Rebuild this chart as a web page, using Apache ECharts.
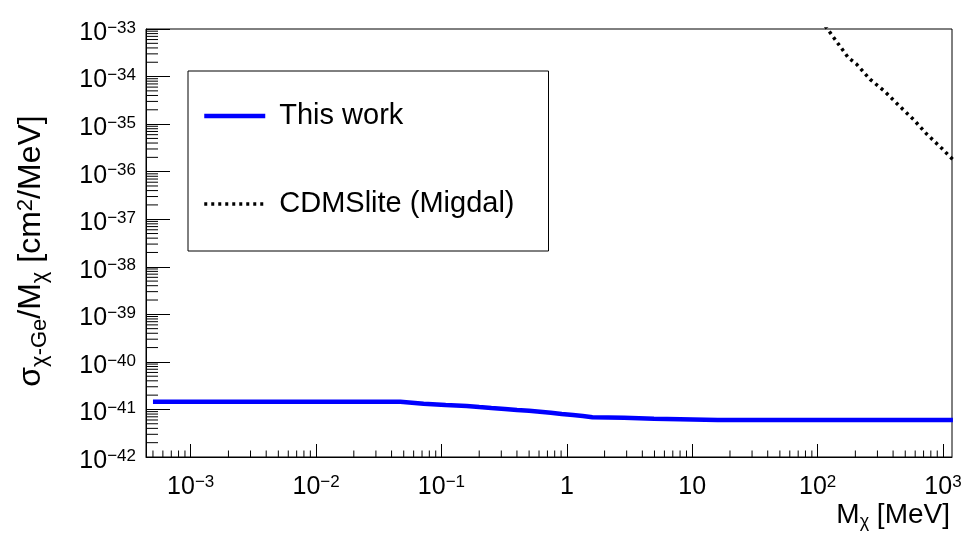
<!DOCTYPE html>
<html>
<head>
<meta charset="utf-8">
<script src="https://cdn.jsdelivr.net/npm/echarts@6/dist/echarts.min.js"></script>
<style>
html,body{margin:0;padding:0;background:#fff;}
#chart{width:962px;height:534px;}
</style>
</head>
<body>
<div id="chart"></div>
<script>
// ---- data ----
const thisWorkMass  = [5e-4, 0.047, 0.072, 0.108, 0.159, 0.2, 0.25, 0.32, 0.4, 0.5, 0.61, 0.745, 0.91, 1.12, 1.34, 1.6, 2.85, 4.95, 8, 16, 1200];
const thisWorkSigma = [1.45e-41, 1.45e-41, 1.32e-41, 1.24e-41, 1.18e-41, 1.12e-41, 1.07e-41, 1.02e-41, 9.7e-42, 9.4e-42, 8.95e-42, 8.5e-42, 8.0e-42, 7.6e-42, 7.25e-42, 6.85e-42, 6.65e-42, 6.35e-42, 6.25e-42, 6.0e-42, 6.0e-42];
const cdmsMass  = [115, 121.6, 175.8, 205, 262, 345, 441, 580, 741, 977, 1117, 1200];
const cdmsSigma = [1.16e-33, 9.5e-34, 2.49e-34, 1.81e-34, 8.75e-35, 4.8e-35, 2.52e-35, 1.26e-35, 6.2e-36, 3.1e-36, 2.16e-36, 1.8e-36];
const seriesNames = ['This work', 'CDMSlite (Migdal)'];
const xAxisTitle = '{n|M}{sub|χ}{n| [MeV]}';
const yAxisTitle = '{n|σ}{sub|χ-Ge}{n|/M}{sub|χ}{n| [cm}{sup|2}{n|/MeV]}';

// axis ranges and minor-tick layout
const X_MIN = 4.4e-4, X_MAX = 1.18e3;
const Y_MIN = 0.99999e-42, Y_MAX = 1e-33;
const minorMultipliers = [2, 3, 4, 5, 6, 7, 8, 9];
const xMinorDecades = [-4, -3, -2, -1, 0, 1, 2, 3];
const yMinorDecades = [-42, -41, -40, -39, -38, -37, -36, -35, -34];

function minorValues(decades, lo, hi) {
  const out = [];
  decades.forEach(k => minorMultipliers.forEach(m => {
    const v = m * Math.pow(10, k);
    if (v > lo && v < hi) out.push(v);
  }));
  return out;
}
const xMinor = minorValues(xMinorDecades, X_MIN, X_MAX);
const yMinor = minorValues(yMinorDecades, Y_MIN, Y_MAX);

const FONT = 'Liberation Sans';

function expOf(v) {
  const e = Math.log10(v);
  const r = Math.round(e);
  return Math.abs(e - r) < 1e-3 ? r : null;
}
function xLabel(v) {
  const e = expOf(v);
  if (e === null) return '';
  if (e === 0) return '{b|1}';
  if (e === 1) return '{b|10}';
  return '{b|10}{s|' + (e < 0 ? '\u2212' + (-e) : e) + '}';
}
function yLabel(v) {
  const e = expOf(v);
  if (e === null) return '';
  return '{b|10}{s|' + (e < 0 ? '\u2212' + (-e) : e) + '}';
}
const tickRich = {
  b: { fontSize: 25, lineHeight: 26, verticalAlign: 'bottom', fontFamily: FONT, color: '#000' },
  s: { fontSize: 17, lineHeight: 6, verticalAlign: 'top', fontFamily: FONT, color: '#000' }
};

const chart = echarts.init(document.getElementById('chart'), null, { renderer: 'canvas' });
chart.setOption({
  animation: false,
  backgroundColor: '#fff',
  textStyle: { fontFamily: FONT, color: '#000' },
  grid: {
    left: 146, right: 10, top: 29, bottom: 77,
    show: true, borderColor: '#000', borderWidth: 1, backgroundColor: 'transparent',
    containLabel: false, outerBoundsMode: 'none'
  },
  legend: {
    data: seriesNames,
    orient: 'vertical',
    left: 188, top: 71,
    padding: [30, 34, 32, 14],
    itemGap: 58,
    itemWidth: 61,
    itemHeight: 30,
    backgroundColor: '#fff',
    borderColor: '#000',
    borderWidth: 1,
    borderRadius: 0,
    selectedMode: false,
    lineStyle: { width: 'inherit', type: 'inherit' },
    itemStyle: { color: 'transparent', borderColor: 'transparent', borderWidth: 0, opacity: 0 },
    textStyle: { fontSize: 29, lineHeight: 30, fontFamily: FONT, color: '#000', padding: [0, 0, 0, 9] }
  },
  xAxis: {
    type: 'log', logBase: 10, min: X_MIN, max: X_MAX,
    splitNumber: 10,
    axisLine: { show: true, lineStyle: { color: '#000', width: 1 } },
    axisTick: { show: true, inside: true, length: 13, lineStyle: { color: '#000', width: 1 } },
    splitLine: { show: false },
    axisLabel: {
      show: true, margin: 17, showMinLabel: false, showMaxLabel: false,
      formatter: xLabel, rich: tickRich, color: '#000', verticalAlign: 'top'
    },
    name: xAxisTitle,
    nameLocation: 'end',
    nameGap: -2,
    nameMoveOverlap: false,
    nameTextStyle: {
      align: 'right', verticalAlign: 'top', padding: [44, 0, 0, 0],
      rich: {
        n: { fontSize: 28, lineHeight: 30, verticalAlign: 'top', fontFamily: FONT, color: '#000' },
        sub: { fontSize: 18, lineHeight: 10, verticalAlign: 'bottom', fontFamily: FONT, color: '#000' }
      }
    }
  },
  yAxis: {
    type: 'log', logBase: 10, min: Y_MIN, max: Y_MAX,
    splitNumber: 10,
    axisLine: { show: true, lineStyle: { color: '#000', width: 1 } },
    axisTick: { show: true, inside: true, length: 24, lineStyle: { color: '#000', width: 1 } },
    splitLine: { show: false },
    axisLabel: {
      show: true, margin: 10, padding: [7, 0, 0, 0],
      showMinLabel: true, showMaxLabel: true, hideOverlap: false,
      formatter: yLabel, rich: tickRich, color: '#000'
    },
    name: yAxisTitle,
    nameLocation: 'middle',
    nameRotate: 90,
    nameGap: 95,
    nameMoveOverlap: false,
    nameTextStyle: {
      padding: [0, 16, 0, 0],
      rich: {
        n: { fontSize: 32, lineHeight: 36, verticalAlign: 'top', fontFamily: FONT, color: '#000' },
        sub: { fontSize: 22, lineHeight: 14, verticalAlign: 'bottom', fontFamily: FONT, color: '#000' },
        sup: { fontSize: 22, lineHeight: 8, verticalAlign: 'top', fontFamily: FONT, color: '#000' }
      }
    }
  },
  series: [
    {
      name: seriesNames[0],
      type: 'line',
      data: thisWorkMass.map((m, i) => [m, thisWorkSigma[i]]),
      showSymbol: false, symbol: 'none',
      clip: true,
      lineStyle: { color: '#0000ff', width: 4.5 },
      itemStyle: { color: '#0000ff' },
      z: 3
    },
    {
      name: seriesNames[1],
      type: 'line',
      data: cdmsMass.map((m, i) => [m, cdmsSigma[i]]),
      showSymbol: false, symbol: 'none',
      clip: true,
      lineStyle: { color: '#000', width: 3.5, type: [3, 4] },
      itemStyle: { color: '#000' },
      z: 3
    },
    {
      type: 'custom',
      silent: true,
      z: 10,
      data: xMinor.map(v => [v, Y_MIN]),
      renderItem: function (params, api) {
        const p = api.coord([api.value(0), Y_MIN]);
        return { type: 'line', shape: { x1: p[0], y1: p[1], x2: p[0], y2: p[1] - 6.5 },
                 style: { stroke: '#000', lineWidth: 1 } };
      }
    },
    {
      type: 'custom',
      silent: true,
      z: 10,
      data: yMinor.map(v => [X_MIN, v]),
      renderItem: function (params, api) {
        const p = api.coord([X_MIN, api.value(1)]);
        return { type: 'line', shape: { x1: p[0], y1: p[1], x2: p[0] + 12, y2: p[1] },
                 style: { stroke: '#000', lineWidth: 1 } };
      }
    }
  ]
});
</script>
</body>
</html>
